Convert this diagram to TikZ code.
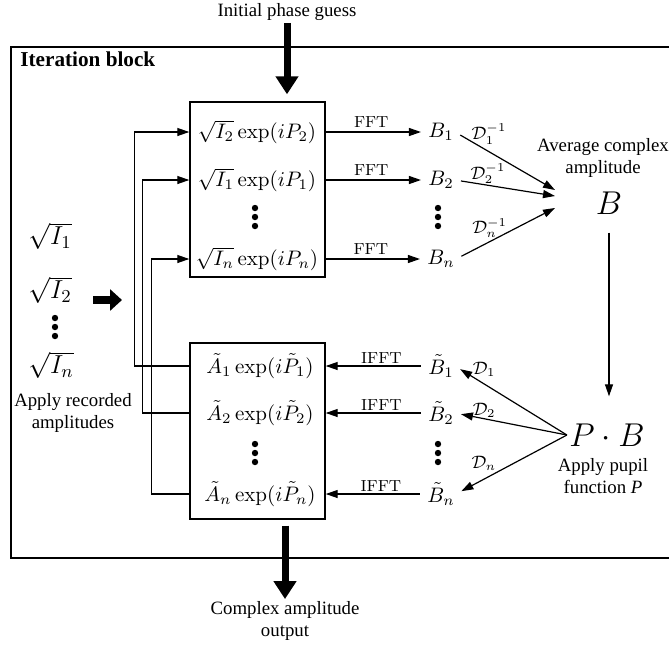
\documentclass[tikz,border=0pt]{standalone}
\usepackage{fix-cm}
\usepackage{amsmath}
\usepackage[no-math]{fontspec}
\setmainfont{Liberation Serif}
\usetikzlibrary{arrows.meta}

\tikzset{
    txt/.style={font=\fontsize{9.4}{11}\selectfont, align=center, inner sep=1pt},
    head/.style={font=\fontsize{10.6}{12}\selectfont\bfseries, inner sep=0pt},
    mth/.style={font=\fontsize{10.5}{12}\selectfont, inner sep=1pt},
    bnode/.style={font=\fontsize{10.5}{12}\selectfont, inner sep=0.5pt},
    lft/.style={font=\fontsize{13}{15}\selectfont, inner sep=0pt, anchor=west},
    big/.style={font=\fontsize{16.5}{18}\selectfont, inner sep=1pt},
    lbl/.style={font=\fontsize{9}{10}\selectfont, inner sep=0.5pt},
    fft/.style={font=\fontsize{8}{9}\selectfont, inner sep=1pt},
    box/.style={draw, line width=0.7pt, inner sep=0pt},
    arr/.style={line width=0.6pt, -{Triangle[length=6pt,width=4pt]}},
    bigarr/.style={line width=3.5pt, -{Triangle[length=9pt,width=11pt]}},
    bigarrh/.style={line width=4pt, -{Triangle[length=6pt,width=10.5pt]}},
}

\begin{document}
\begin{tikzpicture}[x=0.5pt, y=-0.5pt]
    \useasboundingbox (0,0) rectangle (669,644);

    % Iteration frame
    \draw[line width=0.75pt] (11,47) rectangle (690,558);
    \node[head, anchor=base west] (title) at (20,66) {Iteration block};

    % Boxes
    \node[box, minimum width=67.5pt, minimum height=87.5pt] (topbox) at (257.5,189.5) {};
    \node[box, minimum width=67.5pt, minimum height=88pt] (botbox) at (257.5,431) {};

    % Forward rows
    \node[mth] (t1) at (257,132) {$\sqrt{I_2}\exp(iP_2)$};
    \node[mth] (t2) at (257,180) {$\sqrt{I_1}\exp(iP_1)$};
    \node[mth] (tn) at (257,259) {$\sqrt{I_n}\exp(iP_n)$};
    \foreach \y in {208,217,226} \fill (255,\y) circle (1.6pt);

    \node[bnode] (b1) at (441,132) {$B_1$};
    \node[bnode] (b2) at (441,180) {$B_2$};
    \node[bnode] (bn) at (441,259) {$B_n$};
    \foreach \y in {208,217,226} \fill (438,\y) circle (1.6pt);

    \draw[arr, shorten >=3pt] (t1 -| topbox.east) -- (b1.west) node[fft, pos=0.45, above=1pt] {$\mathrm{FFT}$};
    \draw[arr, shorten >=3pt] (t2 -| topbox.east) -- (b2.west) node[fft, pos=0.45, above=1pt] {$\mathrm{FFT}$};
    \draw[arr, shorten >=3pt] (tn -| topbox.east) -- (bn.west) node[fft, pos=0.45, above=1pt] {$\mathrm{FFT}$};

    % Average
    \node[txt] (avgtxt) at (603,158) {Average complex\\amplitude};
    \node[big] (bbig) at (609,203) {$B$};
    \coordinate (avg) at (555,198);
    \draw[arr, shorten <=3pt] (b1.east) -- ([yshift=4pt]avg) node[lbl, pos=0.34, above=3pt] {$\mathcal{D}_1^{-1}$};
    \draw[arr, shorten <=3pt] (b2.east) -- ([yshift=1pt]avg) node[lbl, pos=0.33, above=0pt] {$\mathcal{D}_2^{-1}$};
    \draw[arr, shorten <=3pt] (bn.east) -- ([yshift=-5pt]avg) node[lbl, pos=0.34, above=1.5pt] {$\mathcal{D}_n^{-1}$};

    % Pupil
    \node[big] (pb) at (607,435) {$P\cdot B$};
    \node[txt] (pupil) at (603,476) {Apply pupil\\function \textit{P}};
    \draw[arr, shorten <=8pt, shorten >=12.5pt] (bbig.south) -- (bbig.south |- pb.north);

    % Backward rows
    \node[bnode] (bt1) at (441,366) {$\tilde{B}_1$};
    \node[bnode] (bt2) at (441,413) {$\tilde{B}_2$};
    \node[bnode] (btn) at (441,494) {$\tilde{B}_n$};
    \foreach \y in {444,453,462} \fill (438,\y) circle (1.6pt);

    \draw[arr, shorten >=3pt] (pb.west) -- (bt1.east) node[lbl, pos=0.74, above=3pt] {$\mathcal{D}_1$};
    \draw[arr, shorten >=3pt] (pb.west) -- (bt2.east) node[lbl, pos=0.74, above=0pt] {$\mathcal{D}_2$};
    \draw[arr, shorten >=3pt] (pb.west) -- (btn.east) node[lbl, pos=0.75, above=3.5pt] {$\mathcal{D}_n$};

    \node[mth] (a1) at (260,366) {$\tilde{A}_1\exp(i\tilde{P}_1)$};
    \node[mth] (a2) at (260,413) {$\tilde{A}_2\exp(i\tilde{P}_2)$};
    \node[mth] (an) at (260,494) {$\tilde{A}_n\exp(i\tilde{P}_n)$};
    \foreach \y in {444,453,462} \fill (255,\y) circle (1.6pt);

    \draw[arr, shorten <=3pt] (bt1.west) -- (a1 -| botbox.east) node[fft, pos=0.45, above=0pt] {$\mathrm{IFFT}$};
    \draw[arr, shorten <=3pt] (bt2.west) -- (a2 -| botbox.east) node[fft, pos=0.45, above=0pt] {$\mathrm{IFFT}$};
    \draw[arr, shorten <=3pt] (btn.west) -- (an -| botbox.east) node[fft, pos=0.45, above=0pt] {$\mathrm{IFFT}$};

    % Feedback
    \draw[arr] (a1 -| botbox.west) -- ++(-55,0) |- (t1 -| topbox.west);
    \draw[arr] (a2 -| botbox.west) -- ++(-47,0) |- (t2 -| topbox.west);
    \draw[arr] (an -| botbox.west) -- ++(-38,0) |- (tn -| topbox.west);

    % Recorded amplitudes
    \node[lft] (i1) at (28,236) {$\sqrt{I_1}$};
    \node[lft] (i2) at (28,290) {$\sqrt{I_2}$};
    \node[lft] (iN) at (28,365) {$\sqrt{I_n}$};
    \foreach \y in {318,327,336} \fill (55,\y) circle (1.6pt);
    \node[txt] (rec) at (73,413) {Apply recorded\\amplitudes};
    \coordinate (recA) at (93,300);
    \coordinate (recB) at (122,300);
    \draw[bigarrh] (recA) -- (recB);

    % Input and output
    \node[txt] (guess) at (287,12) {Initial phase guess};
    \draw[bigarr, shorten >=3.5pt] (guess.south) -- (guess.south |- topbox.north);
    \node[txt] (out) at (285,621) {Complex amplitude\\output};
    \draw[bigarr, shorten <=3pt] (out.north |- botbox.south) -- (out.north);

\end{tikzpicture}
\end{document}
